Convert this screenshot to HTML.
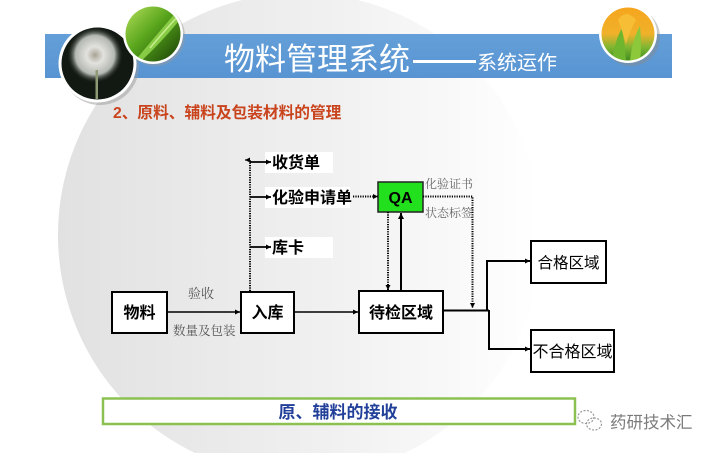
<!DOCTYPE html>
<html><head><meta charset="utf-8">
<style>
html,body{margin:0;padding:0;background:#fff;width:716px;height:453px;overflow:hidden;}
svg{display:block;}
.cj{font-family:"Liberation Sans","Noto Sans CJK SC",sans-serif;}
.sf{font-family:"Liberation Serif","Noto Serif CJK SC",serif;}
</style></head>
<body>
<svg width="716" height="453" viewBox="0 0 716 453" xmlns="http://www.w3.org/2000/svg">
<defs>
  <linearGradient id="bgc" x1="58" y1="0" x2="540" y2="0" gradientUnits="userSpaceOnUse">
    <stop offset="0" stop-color="#e1e1e1"/>
    <stop offset="0.55" stop-color="#f0f0f0"/>
    <stop offset="1" stop-color="#ffffff"/>
  </linearGradient>
  <linearGradient id="band" x1="0" y1="0" x2="0" y2="1">
    <stop offset="0" stop-color="#649fd8"/>
    <stop offset="1" stop-color="#5894d2"/>
  </linearGradient>
  <radialGradient id="puff" cx="0.5" cy="0.5" r="0.5">
    <stop offset="0" stop-color="#a9a396"/>
    <stop offset="0.3" stop-color="#e2e2de"/>
    <stop offset="0.7" stop-color="#b4b8b2"/>
    <stop offset="1" stop-color="#1a201b" stop-opacity="0"/>
  </radialGradient>
  <linearGradient id="leaf" x1="0" y1="0" x2="1" y2="1">
    <stop offset="0" stop-color="#b7e05a"/>
    <stop offset="0.45" stop-color="#58a51c"/>
    <stop offset="1" stop-color="#163c05"/>
  </linearGradient>
  <linearGradient id="tulip" x1="0" y1="0" x2="0" y2="1">
    <stop offset="0" stop-color="#f6a51d"/>
    <stop offset="0.5" stop-color="#f0b12a"/>
    <stop offset="0.75" stop-color="#7db632"/>
    <stop offset="1" stop-color="#3f8a1f"/>
  </linearGradient>
  <clipPath id="c1"><circle cx="97.5" cy="63.5" r="36"/></clipPath>
  <clipPath id="c2"><circle cx="153" cy="34" r="27.5"/></clipPath>
  <clipPath id="c3"><circle cx="628" cy="34" r="26.5"/></clipPath>
  <marker id="ah" viewBox="0 0 10 10" refX="10" refY="5" markerWidth="5" markerHeight="5" orient="auto" markerUnits="userSpaceOnUse">
    <path d="M0,0 L10,5 L0,10 z" fill="#000"/>
  </marker>
  <marker id="ah2" viewBox="0 0 10 10" refX="10" refY="5" markerWidth="6" markerHeight="6" orient="auto" markerUnits="userSpaceOnUse">
    <path d="M0,0 L10,5 L0,10 z" fill="#000"/>
  </marker>
</defs>

<rect width="716" height="453" fill="#fff"/>
<path d="M242.2,0 L357.8,0 A242 242 0 0 1 405.1,453 L194.9,453 A242 242 0 0 1 242.2,0 Z" fill="url(#bgc)"/>

<rect x="45" y="34" width="627" height="44" fill="url(#band)"/>

<circle cx="100" cy="66" r="39" fill="#9a9a9a" opacity="0.5"/>
<circle cx="97.5" cy="63.5" r="39" fill="#fff"/>
<g clip-path="url(#c1)">
  <rect x="61.5" y="27.5" width="72" height="72" fill="#121812"/>
  <circle cx="95" cy="55" r="28" fill="url(#puff)"/>
  <rect x="95.5" y="70" width="2.5" height="29" fill="#8e9a74"/>
</g>

<circle cx="155" cy="36" r="30" fill="#9a9a9a" opacity="0.45"/>
<circle cx="153" cy="34" r="30" fill="#fff"/>
<g clip-path="url(#c2)">
  <rect x="125" y="6" width="56" height="56" fill="url(#leaf)"/>
  <path d="M134,62 Q152,40 178,10 L183,16 Q160,44 140,62 z" fill="#8fd34a" opacity="0.9"/>
  <path d="M150,48 Q165,30 180,14" stroke="#d8f5a0" stroke-width="1.5" fill="none" opacity="0.8"/>
</g>

<circle cx="631" cy="37" r="29" fill="#8a8a8a" opacity="0.45"/>
<circle cx="628" cy="34" r="29" fill="#fff"/>
<g clip-path="url(#c3)">
  <rect x="601" y="7" width="54" height="54" fill="url(#tulip)"/>
  <path d="M612,61 Q615,40 622,28 Q625,45 626,61 z" fill="#6fb52e"/>
  <path d="M630,61 Q632,40 640,26 Q642,45 640,61 z" fill="#8cc83a"/>
  <path d="M618,20 Q626,8 636,20 Q630,30 626,44 Q622,30 618,20 z" fill="#f8c23a" opacity="0.8"/>
</g>

<text x="224" y="70" class="cj" font-size="31" fill="#fff">物料管理系统</text>
<rect x="413" y="60" width="63" height="3" fill="#fff"/>
<text x="477" y="69.5" class="cj" font-size="20" fill="#fff">系统运作</text>

<text x="113" y="118" class="cj" font-size="15.7" font-weight="bold" fill="#c9431c">2、原料、辅料及包装材料的管理</text>

<rect x="265" y="152" width="68" height="21" fill="#fff"/>
<rect x="265" y="187" width="85" height="21" fill="#fff"/>
<rect x="265" y="237" width="68" height="21" fill="#fff"/>

<line x1="250" y1="291" x2="250" y2="160" stroke="#000" stroke-width="2" stroke-dasharray="1.2 1.2"/>
<line x1="250" y1="160" x2="245" y2="160" stroke="#000" stroke-width="1.2" marker-end="url(#ah)"/>

<line x1="250" y1="162" x2="271" y2="162" stroke="#000" stroke-width="1.8" marker-end="url(#ah)"/>
<line x1="250" y1="197" x2="271" y2="197" stroke="#000" stroke-width="1.8" marker-end="url(#ah)"/>
<line x1="250" y1="247" x2="271" y2="247" stroke="#000" stroke-width="1.8" marker-end="url(#ah)"/>

<text x="272" y="168" class="cj" font-size="16" font-weight="bold" fill="#000">收货单</text>
<text x="272" y="203" class="cj" font-size="16" font-weight="bold" fill="#000">化验申请单</text>
<text x="272" y="253" class="cj" font-size="16" font-weight="bold" fill="#000">库卡</text>

<line x1="353" y1="196.5" x2="378" y2="196.5" stroke="#000" stroke-width="2" stroke-dasharray="1.2 1.2" marker-end="url(#ah)"/>

<rect x="378" y="182" width="45" height="30" fill="#22e01e" stroke="#222" stroke-width="1.5"/>
<text x="400.5" y="203" class="cj" font-size="16" font-weight="bold" fill="#000" text-anchor="middle">QA</text>

<text x="425" y="188" class="sf" font-size="12" fill="#666">化验证书</text>
<text x="425" y="217" class="sf" font-size="12" fill="#666">状态标签</text>

<polyline points="423,196.5 472.5,196.5 472.5,308" fill="none" stroke="#000" stroke-width="2" stroke-dasharray="1.2 1.2" marker-end="url(#ah)"/>

<line x1="388" y1="212" x2="388" y2="290" stroke="#000" stroke-width="2" stroke-dasharray="1.2 1.2" marker-end="url(#ah)"/>
<line x1="401" y1="291" x2="401" y2="213" stroke="#000" stroke-width="2" marker-end="url(#ah2)"/>

<rect x="112" y="292" width="55" height="41" fill="#fff" stroke="#000" stroke-width="2"/>
<text x="139.5" y="318" class="cj" font-size="16" font-weight="bold" fill="#000" text-anchor="middle">物料</text>

<rect x="241" y="292" width="53" height="41" fill="#fff" stroke="#000" stroke-width="2"/>
<text x="267.5" y="318" class="cj" font-size="16" font-weight="bold" fill="#000" text-anchor="middle">入库</text>

<rect x="359" y="291" width="84" height="42" fill="#fff" stroke="#000" stroke-width="2"/>
<text x="401" y="318" class="cj" font-size="16" font-weight="bold" fill="#000" text-anchor="middle">待检区域</text>

<rect x="531" y="241" width="75" height="42" fill="#fff" stroke="#000" stroke-width="2"/>
<text x="568.5" y="268" class="cj" font-size="15.5" fill="#000" text-anchor="middle">合格区域</text>

<rect x="531" y="330" width="83" height="42" fill="#fff" stroke="#000" stroke-width="2"/>
<text x="572.5" y="357" class="cj" font-size="16" fill="#000" text-anchor="middle">不合格区域</text>

<line x1="167" y1="312" x2="240" y2="312" stroke="#000" stroke-width="1.5" marker-end="url(#ah)"/>
<text x="188" y="298" class="sf" font-size="13" fill="#555">验收</text>
<text x="173" y="335" class="sf" font-size="12.5" fill="#555">数量及包装</text>

<line x1="294" y1="312" x2="358" y2="312" stroke="#000" stroke-width="1.5" marker-end="url(#ah)"/>

<polyline points="443,310.5 489,310.5" fill="none" stroke="#000" stroke-width="2"/>
<polyline points="487,311 487,261 530,261" fill="none" stroke="#000" stroke-width="2" marker-end="url(#ah)"/>
<polyline points="489,310 489,349 530,349" fill="none" stroke="#000" stroke-width="2" marker-end="url(#ah)"/>

<rect x="103" y="398.5" width="472" height="25.5" fill="#fff" stroke="#8cc152" stroke-width="2.5"/>
<text x="338" y="418" class="cj" font-size="17" font-weight="bold" fill="#22409a" text-anchor="middle">原、辅料的接收</text>

<g fill="none" stroke="#9a9a9a" stroke-width="1.2" stroke-dasharray="2 1.5">
  <ellipse cx="586" cy="417" rx="8" ry="6.5"/>
  <ellipse cx="594" cy="424" rx="7.5" ry="6"/>
</g>
<text x="610" y="428" class="cj" font-size="16.5" fill="#7a7a7a">药研技术汇</text>
</svg>
</body></html>
